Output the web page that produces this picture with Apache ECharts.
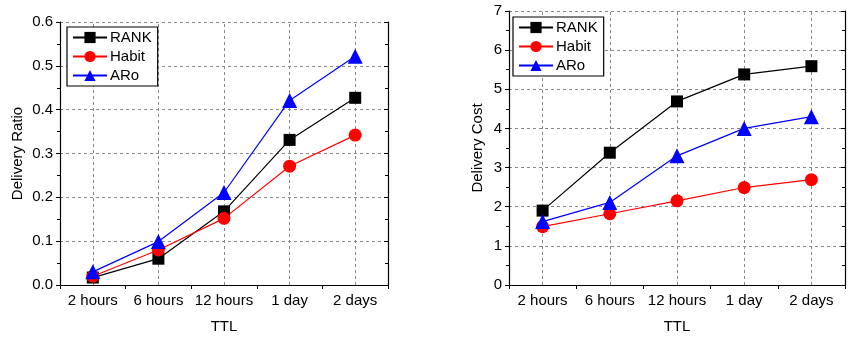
<!DOCTYPE html>
<html><head><meta charset="utf-8">
<script src="https://cdn.jsdelivr.net/npm/echarts@6/dist/echarts.min.js"></script>
<style>html,body{margin:0;padding:0;background:#fff}#c{width:851px;height:339px}</style>
</head><body><div id="c"></div>
<script>
const categories = ['2 hours', '6 hours', '12 hours', '1 day', '2 days'];
const seriesNames = ['RANK', 'Habit', 'ARo'];
const ratioRANK = [0.017, 0.060, 0.168, 0.331, 0.427];
const ratioHabit = [0.020, 0.080, 0.152, 0.271, 0.342];
const ratioARo = [0.030, 0.099, 0.211, 0.421, 0.522];
const costRANK = [1.90, 3.38, 4.69, 5.38, 5.59];
const costHabit = [1.49, 1.82, 2.15, 2.49, 2.69];
const costARo = [1.62, 2.11, 3.30, 4.00, 4.30];

const FONT = 'Liberation Sans, Arial, sans-serif';
const styles = {
  RANK: {color: '#000000', symbol: 'rect', size: 12},
  Habit: {color: '#ff0000', symbol: 'circle', size: 13},
  ARo: {color: '#0000ff', symbol: 'triangle', size: 15}
};

const chart = echarts.init(document.getElementById('c'), null, {renderer: 'canvas'});

function mkSeries(name, data, idx) {
  const s = styles[name];
  return {
    name: name, type: 'line', data: data, xAxisIndex: idx * 2, yAxisIndex: idx * 2,
    symbol: s.symbol, symbolSize: s.size, color: s.color, z: 5,
    lineStyle: {color: s.color, width: 1.2},
    itemStyle: {color: s.color, borderColor: s.color, borderWidth: 0, opacity: 1},
    emphasis: {disabled: true},
    animation: false
  };
}

function gridLineSeries(idx) {
  return {
    name: 'grid' + idx, type: 'line', xAxisIndex: idx * 2, yAxisIndex: idx * 2,
    data: categories.map(() => null), z: 1, silent: true, animation: false,
    markLine: {
      silent: true, symbol: 'none', label: {show: false},
      lineStyle: {color: '#888', type: [3, 3], width: 1},
      data: categories.map(c => ({xAxis: c})),
      animation: false
    }
  };
}

function xAxes(gridIndex, name) {
  return [{
    type: 'category', gridIndex: gridIndex, data: categories, boundaryGap: true,
    name: name, nameLocation: 'middle', nameGap: 34,
    nameTextStyle: {fontFamily: FONT, fontSize: 15, color: '#000'},
    axisLine: {lineStyle: {color: '#000', width: 1.2}},
    axisTick: {show: true, length: 4, interval: 0, lineStyle: {color: '#000'}},
    axisLabel: {fontFamily: FONT, fontSize: 15, color: '#000', margin: 8, interval: 0},
    splitLine: {show: false}
  }, {
    type: 'category', gridIndex: gridIndex, data: categories, position: 'top', boundaryGap: true,
    axisLine: {lineStyle: {color: '#000', width: 1.2}},
    axisTick: {show: true, inside: true, length: 4, interval: 0, lineStyle: {color: '#000'}},
    axisLabel: {show: false}, splitLine: {show: false}
  }];
}

function yAxes(gridIndex, name, max, interval, gap, fmt) {
  return [{
    type: 'value', gridIndex: gridIndex, min: 0, max: max, interval: interval,
    name: name, nameLocation: 'middle', nameGap: gap,
    nameTextStyle: {fontFamily: FONT, fontSize: 15, color: '#000'},
    axisLine: {show: true, lineStyle: {color: '#000', width: 1.2}},
    axisTick: {show: true, length: 4, lineStyle: {color: '#000'}},
    minorTick: {show: true, splitNumber: 2, length: 3, lineStyle: {color: '#000'}},
    axisLabel: {fontFamily: FONT, fontSize: 15, color: '#000', margin: 7, formatter: fmt},
    splitLine: {show: true, lineStyle: {color: '#888', type: [3, 3], width: 1}}
  }, {
    type: 'value', gridIndex: gridIndex, min: 0, max: max, interval: interval, position: 'right',
    axisLine: {show: true, lineStyle: {color: '#000', width: 1.2}},
    axisTick: {show: true, inside: true, length: 4, lineStyle: {color: '#000'}},
    minorTick: {show: true, splitNumber: 2, length: 3, lineStyle: {color: '#000'}},
    axisLabel: {show: false}, splitLine: {show: false}
  }];
}

const xa = [...xAxes(0, 'TTL'), ...xAxes(1, 'TTL')];
const ya = [...yAxes(0, 'Delivery Ratio', 0.6, 0.1, 35, v => v.toFixed(1)),
            ...yAxes(1, 'Delivery Cost', 7, 1, 24, v => String(v))];

function legend(left, top) {
  return {
    left: left, top: top, orient: 'vertical', data: seriesNames,
    itemWidth: 34, itemHeight: 14, itemGap: 4, z: 10,
    backgroundColor: '#fff', borderColor: '#000', borderWidth: 1.2, borderRadius: 0,
    padding: [3, 6, 3, 5],
    textStyle: {fontFamily: FONT, fontSize: 15, color: '#000', padding: [0, 0, 0, -2]},
    selectedMode: false
  };
}

const series = [
  gridLineSeries(0), gridLineSeries(1),
  mkSeries('RANK', ratioRANK, 0), mkSeries('Habit', ratioHabit, 0), mkSeries('ARo', ratioARo, 0),
  mkSeries('RANK', costRANK, 1), mkSeries('Habit', costHabit, 1), mkSeries('ARo', costARo, 1)
];

chart.setOption({
  backgroundColor: '#fff',
  animation: false,
  grid: [
    {left: 60, right: 463, top: 22, bottom: 52, containLabel: false},
    {left: 509, right: 6, top: 11, bottom: 54, containLabel: false}
  ],
  legend: [legend(67, 27), legend(513, 17)],
  xAxis: xa,
  yAxis: ya,
  series: series
});
</script></body></html>
